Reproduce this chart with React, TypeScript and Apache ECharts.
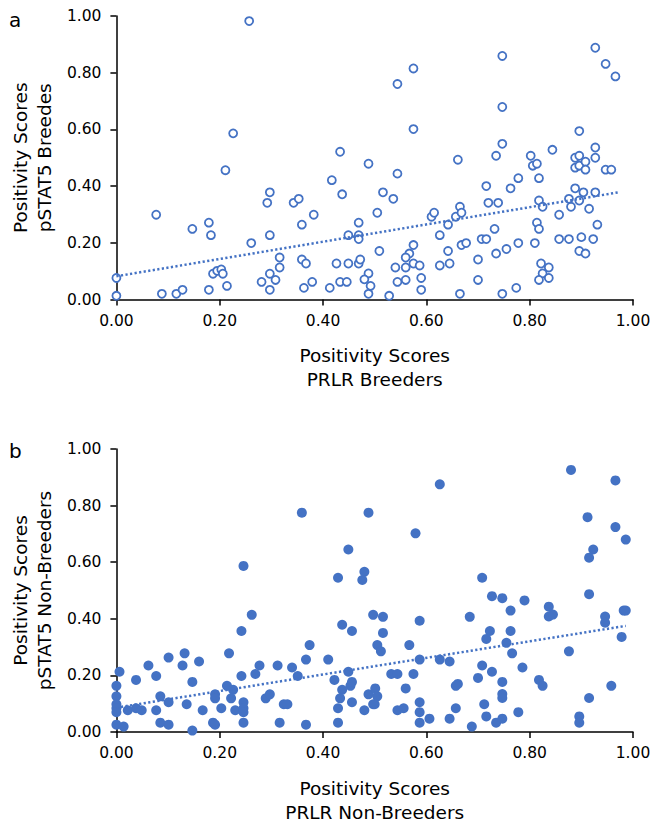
import React, { useEffect, useRef } from "react";
import * as echarts from "echarts";

const tickStep = 0.2;
const axisMax = 1;

const breedersPRLR = [
  0.257, 0.226, 0.211, 0.433, 0.488, 0.417, 0.437, 0.297, 0.292, 0.343, 0.353, 0.382, 0.077, 0.179, 0.147, 0.183,
  0.359, 0.469, 0.449, 0.469, 0.469, 0.261, 0.297, 0.316, 0.316, 0.359, 0.367, 0.426, 0.449, 0.469, 0.472, 0.488,
  0.48, 0.492, 0.488, 0.0, 0.0, 0.088, 0.116, 0.128, 0.179, 0.187, 0.195, 0.203, 0.206, 0.214, 0.281, 0.297,
  0.308, 0.297, 0.363, 0.379, 0.413, 0.433, 0.446,
  0.516, 0.536, 0.505, 0.544, 0.575, 0.575, 0.544, 0.509, 0.575, 0.567, 0.56, 0.54, 0.56, 0.575, 0.587, 0.544,
  0.56, 0.59, 0.59, 0.528, 0.61, 0.615, 0.642, 0.626, 0.642, 0.626, 0.645, 0.661, 0.657, 0.665, 0.668, 0.668,
  0.677, 0.665, 0.7, 0.7, 0.707, 0.716, 0.716, 0.72, 0.739, 0.732, 0.735, 0.755, 0.747, 0.747, 0.747, 0.735,
  0.747, 0.774, 0.763, 0.778, 0.778, 0.802, 0.806, 0.814, 0.818, 0.844, 0.818, 0.825, 0.814, 0.818, 0.81, 0.822,
  0.837, 0.825, 0.837, 0.818, 0.857, 0.857, 0.876, 0.876, 0.88, 0.888, 0.896, 0.904, 0.915, 0.927, 0.931, 0.9,
  0.923, 0.896, 0.908, 0.896, 0.888, 0.896, 0.888, 0.896, 0.908, 0.908, 0.927, 0.927, 0.947, 0.958, 0.927, 0.947,
  0.966,
];
const breedersPSTAT5 = [
  0.982, 0.586, 0.456, 0.521, 0.479, 0.421, 0.371, 0.378, 0.341, 0.341, 0.355, 0.299, 0.299, 0.271, 0.249, 0.227,
  0.264, 0.271, 0.227, 0.227, 0.213, 0.199, 0.227, 0.148, 0.113, 0.141, 0.127, 0.127, 0.127, 0.127, 0.141, 0.092,
  0.071, 0.048, 0.02, 0.076, 0.013, 0.02, 0.02, 0.034, 0.034, 0.091, 0.101, 0.106, 0.091, 0.048, 0.062, 0.091,
  0.069, 0.034, 0.041, 0.062, 0.041, 0.062, 0.062,
  0.378, 0.355, 0.306, 0.76, 0.815, 0.601, 0.444, 0.171, 0.192, 0.162, 0.148, 0.113, 0.113, 0.127, 0.12, 0.062,
  0.069, 0.076, 0.034, 0.013, 0.292, 0.306, 0.264, 0.227, 0.171, 0.12, 0.127, 0.493, 0.292, 0.327, 0.306, 0.192,
  0.199, 0.02, 0.141, 0.069, 0.213, 0.213, 0.4, 0.341, 0.341, 0.249, 0.162, 0.178, 0.859, 0.679, 0.549, 0.507,
  0.02, 0.041, 0.392, 0.428, 0.199, 0.507, 0.472, 0.479, 0.428, 0.528, 0.349, 0.327, 0.271, 0.249, 0.199, 0.127,
  0.113, 0.092, 0.076, 0.069, 0.299, 0.213, 0.213, 0.355, 0.327, 0.392, 0.349, 0.378, 0.32, 0.378, 0.264, 0.22,
  0.213, 0.171, 0.162, 0.594, 0.5, 0.507, 0.465, 0.472, 0.486, 0.458, 0.536, 0.5, 0.458, 0.458, 0.888, 0.831,
  0.787,
];

const nonBreedersPRLR = [
  0.359, 0.488, 0.449, 0.429, 0.48, 0.476, 0.246, 0.262, 0.242, 0.437, 0.456, 0.497, 0.374, 0.367, 0.41, 0.218,
  0.132, 0.101, 0.16, 0.128, 0.062, 0.006, 0.077, 0.038, 0.147, 0.0, 0.0, 0.0, 0.0, 0.0, 0.0, 0.014,
  0.022, 0.038, 0.049, 0.077, 0.085, 0.101, 0.085, 0.101, 0.136, 0.147, 0.167, 0.187, 0.191, 0.191, 0.191, 0.203,
  0.214, 0.226, 0.222, 0.23, 0.246, 0.246, 0.246, 0.246, 0.242, 0.269, 0.277, 0.312, 0.34, 0.351, 0.289, 0.297,
  0.324, 0.331, 0.316, 0.367, 0.422, 0.449, 0.437, 0.433, 0.453, 0.456, 0.429, 0.429, 0.456, 0.48, 0.488, 0.497,
  0.516, 0.516, 0.505, 0.512, 0.501, 0.505, 0.5, 0.579, 0.626, 0.587, 0.567, 0.587, 0.626, 0.645, 0.532, 0.544,
  0.575, 0.56, 0.544, 0.556, 0.587, 0.587, 0.587, 0.606, 0.645, 0.657, 0.657, 0.661, 0.688, 0.684, 0.708, 0.727,
  0.747, 0.763, 0.79, 0.723, 0.716, 0.763, 0.755, 0.766, 0.786, 0.708, 0.727, 0.7, 0.747, 0.747, 0.747, 0.712,
  0.716, 0.735, 0.747, 0.778, 0.818, 0.825, 0.837, 0.837, 0.845, 0.876, 0.88, 0.912, 0.915, 0.923, 0.915, 0.915,
  0.896, 0.896, 0.946, 0.946, 0.958, 0.966, 0.966, 0.986, 0.982, 0.986, 0.978,
];
const nonBreedersPSTAT5 = [
  0.775, 0.775, 0.645, 0.545, 0.566, 0.537, 0.587, 0.414, 0.357, 0.379, 0.357, 0.414, 0.307, 0.256, 0.256, 0.278,
  0.278, 0.263, 0.249, 0.235, 0.235, 0.213, 0.198, 0.184, 0.177, 0.163, 0.126, 0.098, 0.084, 0.07, 0.026, 0.019,
  0.077, 0.084, 0.077, 0.077, 0.126, 0.105, 0.033, 0.026, 0.098, 0.005, 0.077, 0.033, 0.026, 0.133, 0.119, 0.084,
  0.163, 0.149, 0.119, 0.077, 0.105, 0.084, 0.07, 0.033, 0.198, 0.205, 0.235, 0.235, 0.228, 0.198, 0.119, 0.133,
  0.098, 0.098, 0.033, 0.026, 0.184, 0.213, 0.149, 0.119, 0.163, 0.177, 0.084, 0.033, 0.105, 0.077, 0.133, 0.098,
  0.407, 0.35, 0.307, 0.285, 0.154, 0.126, 0.098, 0.702, 0.875, 0.393, 0.307, 0.256, 0.256, 0.249, 0.205, 0.205,
  0.205, 0.154, 0.077, 0.084, 0.105, 0.07, 0.033, 0.047, 0.047, 0.084, 0.163, 0.17, 0.019, 0.407, 0.545, 0.48,
  0.473, 0.429, 0.465, 0.357, 0.329, 0.357, 0.315, 0.278, 0.228, 0.235, 0.213, 0.191, 0.177, 0.134, 0.12, 0.098,
  0.055, 0.033, 0.047, 0.07, 0.184, 0.163, 0.443, 0.408, 0.415, 0.285, 0.926, 0.759, 0.616, 0.645, 0.487, 0.12,
  0.055, 0.033, 0.408, 0.386, 0.163, 0.889, 0.724, 0.68, 0.429, 0.429, 0.336,
];

// trendline end points: [x, y]
const trendBreeders = [
  [0, 0.082],
  [0.972, 0.378],
];
const trendNonBreeders = [
  [0, 0.086],
  [0.986, 0.375],
];

const panelLetters = ["a", "b"];
const xTitles = ["Positivity Scores\nPRLR Breeders", "Positivity Scores\nPRLR Non-Breeders"];
const yTitles = ["Positivity Scores\npSTAT5 Breedes", "Positivity Scores\npSTAT5 Non-Breeders"];

const BLUE = "#4472C4";
const FONT = "DejaVu Sans, Liberation Sans, Arial, sans-serif";

const zip = (xs: number[], ys: number[]) => xs.map((x, i) => [x, ys[i]]);

export default function App() {
  const ref = useRef<HTMLDivElement>(null);
  useEffect(() => {
    if (!ref.current) return;
    const chart = echarts.init(ref.current, undefined, { renderer: "svg" });
    const axisCommon = {
      type: "value",
      min: 0,
      max: axisMax,
      interval: tickStep,
      splitLine: { show: false },
      axisLine: { show: true, lineStyle: { color: "#000", width: 1.5 } },
      axisTick: { show: true, length: 6, lineStyle: { color: "#000", width: 1.5 } },
      nameLocation: "middle",
      nameTextStyle: { fontSize: 18.5, lineHeight: 24, color: "#000", fontFamily: FONT, align: "center" },
    };
    const labelCommon = {
      color: "#000",
      fontSize: 15.5,
      fontFamily: FONT,
      showMinLabel: true,
      showMaxLabel: true,
      formatter: (v: number) => v.toFixed(2),
    };
    const xAxes = [0, 1].map((i) => ({
      ...axisCommon,
      gridIndex: i,
      name: xTitles[i],
      nameGap: 44,
      axisLabel: { ...labelCommon, margin: 13 },
    }));
    const yAxes = [0, 1].map((i) => ({
      ...axisCommon,
      gridIndex: i,
      name: yTitles[i],
      nameGap: 53,
      nameRotate: 90,
      axisLabel: { ...labelCommon, margin: 15 },
    }));
    chart.setOption({
      animation: false,
      backgroundColor: "#fff",
      grid: [
        { left: 112, top: 16, width: 521, height: 283.5 },
        { left: 112, top: 449, width: 521, height: 283 },
      ],
      xAxis: xAxes,
      yAxis: yAxes,
      graphic: [
        {
          type: "text",
          x: 9,
          y: 20,
          style: { text: panelLetters[0], fontSize: 20, fontFamily: FONT, fill: "#000", verticalAlign: "middle" },
        },
        {
          type: "text",
          x: 9,
          y: 451,
          style: { text: panelLetters[1], fontSize: 20, fontFamily: FONT, fill: "#000", verticalAlign: "middle" },
        },
      ],
      series: [
        {
          type: "scatter",
          xAxisIndex: 0,
          yAxisIndex: 0,
          data: zip(breedersPRLR, breedersPSTAT5),
          symbol: "circle",
          symbolSize: 8,
          itemStyle: { color: "#fff", borderColor: BLUE, borderWidth: 1.8, opacity: 1 },
          emphasis: { disabled: true },
        },
        {
          type: "line",
          xAxisIndex: 0,
          yAxisIndex: 0,
          data: trendBreeders,
          symbol: "none",
          lineStyle: { color: BLUE, width: 2.5, type: [2.2, 2.4] },
          z: 3,
        },
        {
          type: "scatter",
          xAxisIndex: 1,
          yAxisIndex: 1,
          data: zip(nonBreedersPRLR, nonBreedersPSTAT5),
          symbol: "circle",
          symbolSize: 10,
          itemStyle: { color: BLUE, opacity: 1 },
          emphasis: { disabled: true },
        },
        {
          type: "line",
          xAxisIndex: 1,
          yAxisIndex: 1,
          data: trendNonBreeders,
          symbol: "none",
          lineStyle: { color: BLUE, width: 2.5, type: [2.2, 2.4] },
          z: 3,
        },
      ],
    });
    return () => chart.dispose();
  }, []);
  return (
    <div
      ref={ref}
      style={{ position: "absolute", left: 0, top: 0, width: 654, height: 830, background: "#fff" }}
    />
  );
}
